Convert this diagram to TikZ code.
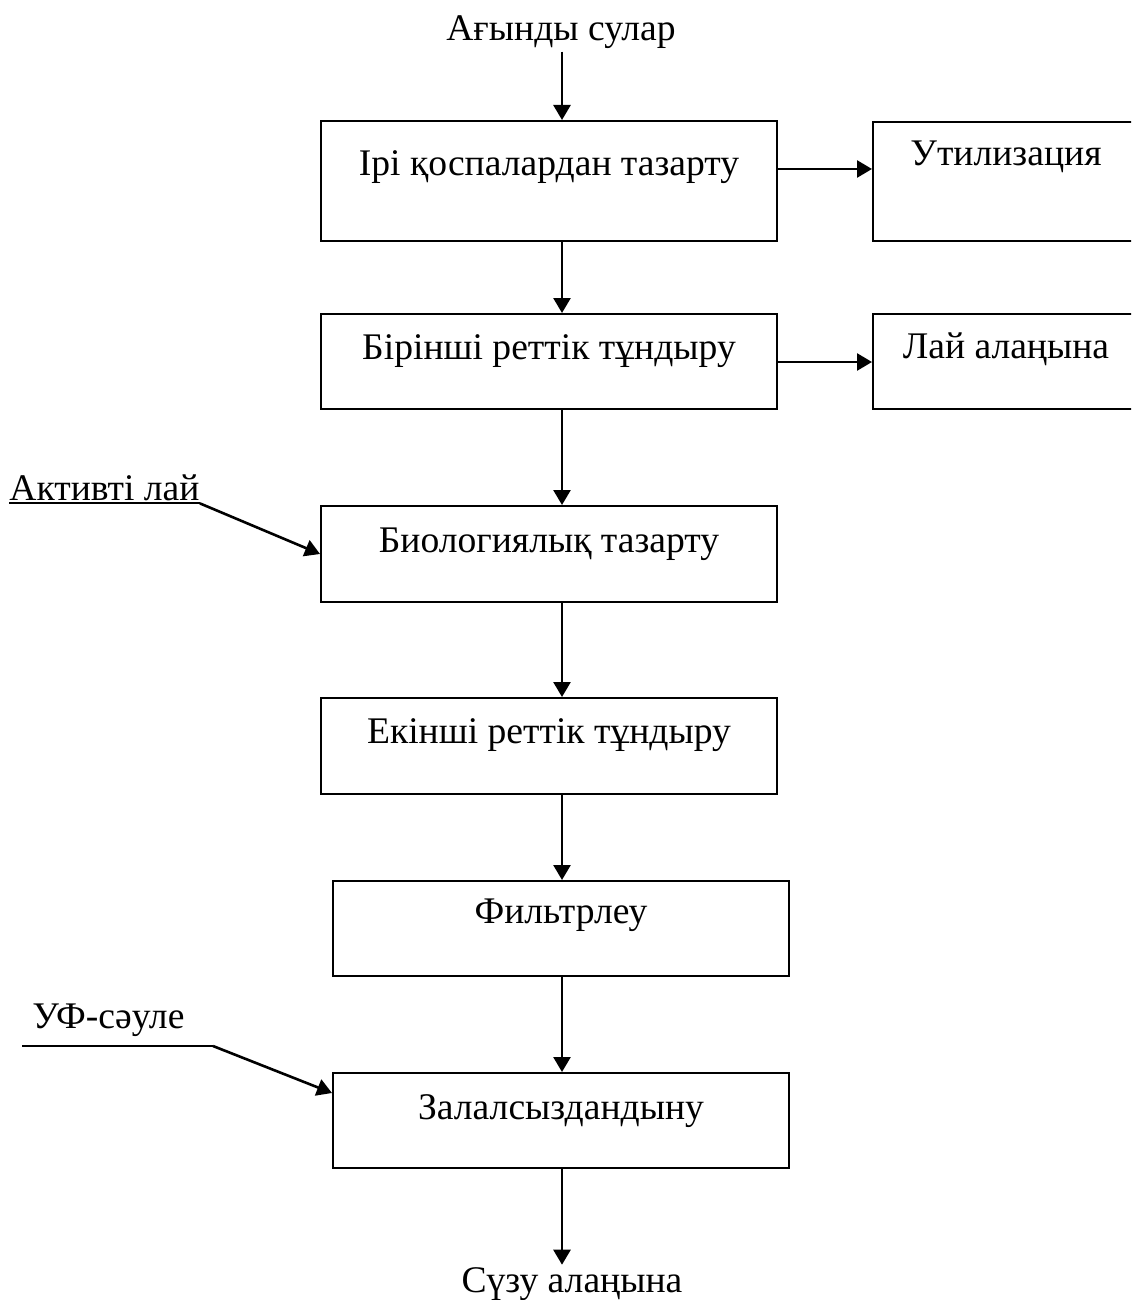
\documentclass[tikz,border=0pt]{standalone}
\usepackage{fontspec}
\setmainfont{Liberation Serif}
\usetikzlibrary{arrows.meta}
\begin{document}
\begin{tikzpicture}[x=0.5pt,y=-0.5pt,
  every node/.style={font=\fontsize{18.8pt}{22pt}\selectfont},
  box/.style={draw,line width=1pt,inner sep=0pt,anchor=north,minimum width=228pt},
  sidebox/.style={draw,line width=1pt,inner sep=0pt,anchor=north,minimum width=133pt},
  arr/.style={line width=1.3pt,-{Triangle[length=7.5pt,width=8.5pt]}},
  plain/.style={inner sep=0pt}]
\useasboundingbox (0,0) rectangle (1131,1300);
\clip (0,0) rectangle (1131,1300);
\coordinate (ax) at (562,0);
\coordinate (y1) at (0,169);
\coordinate (y2) at (0,362);
\coordinate (yuf) at (0,1093);
\coordinate (ufs) at (22,1046);
\coordinate (ufk) at (213,1046);

\node[plain,anchor=base,inner sep=1pt] (in) at (561,41) {Ағынды сулар};
\node[box,text height=27.5pt,text depth=32.5pt] (b1) at (549,120) {Ірі қоспалардан тазарту};
\node[sidebox,text height=22pt,text depth=37.5pt] (u) at (1006,121) {Утилизация};
\node[box,text height=22.5pt,text depth=25pt] (b2) at (549,313) {Бірінші реттік тұндыру};
\node[sidebox,text height=22pt,text depth=25.5pt] (l) at (1006,313) {Лай алаңына};
\node[box,text height=23pt,text depth=25pt] (b3) at (549,505) {Биологиялық тазарту};
\node[box,text height=22.5pt,text depth=25.5pt] (b4) at (549,697) {Екінші реттік тұндыру};
\node[box,text height=21pt,text depth=26.5pt] (b5) at (561,880) {Фильтрлеу};
\node[box,text height=23pt,text depth=24.5pt] (b6) at (561,1072) {Залалсыздандыну};
\node[plain,anchor=base,inner sep=1pt] (out) at (572,1292) {Сүзу алаңына};
\node[plain,anchor=base west,text depth=1.5pt] (al) at (9,500) {Активті лай};
\node[plain,anchor=base west] (uf) at (32,1028) {УФ-сәуле};

\draw[arr] (in.south -| ax) -- (b1.north -| ax);
\draw[arr] (b1.south -| ax) -- (b2.north -| ax);
\draw[arr] (b2.south -| ax) -- (b3.north -| ax);
\draw[arr] (b3.south -| ax) -- (b4.north -| ax);
\draw[arr] (b4.south -| ax) -- (b5.north -| ax);
\draw[arr] (b5.south -| ax) -- (b6.north -| ax);
\draw[arr] (b6.south -| ax) -- (out.north -| ax);
\draw[arr] (b1.east |- y1) -- (u.west |- y1);
\draw[arr] (b2.east |- y2) -- (l.west |- y2);
\draw[line width=1pt] (al.south west) -- (al.south east);
\draw[arr] (al.south east) -- (b3.west);
\draw[line width=1.2pt] (ufs) -- (ufk);
\draw[arr] (ufk) -- (b6.west |- yuf);
\end{tikzpicture}
\end{document}
